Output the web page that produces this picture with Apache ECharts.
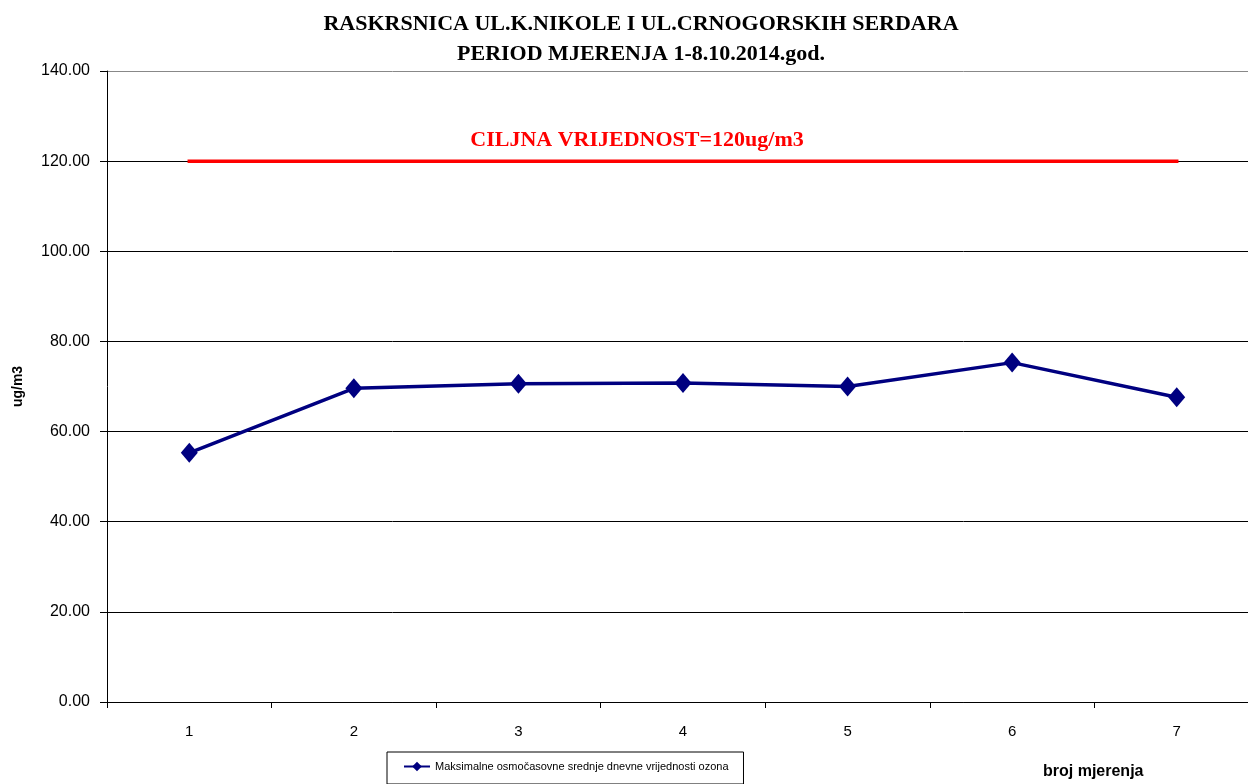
<!DOCTYPE html>
<html>
<head>
<meta charset="utf-8">
<script src="https://cdn.jsdelivr.net/npm/echarts@6/dist/echarts.min.js"></script>
<style>html,body{margin:0;padding:0;background:#fff;}#c{width:1248px;height:784px;}</style>
</head>
<body>
<div id="c"></div>
<script>
var categories = ['1', '2', '3', '4', '5', '6', '7'];
var ozoneValues = [55.3, 69.6, 70.6, 70.8, 70.0, 75.3, 67.6];
var targetValues = [120, 120, 120, 120, 120, 120, 120];
var seriesName = 'Maksimalne osmočasovne srednje dnevne vrijednosti ozona';
var titleLines = 'RASKRSNICA UL.K.NIKOLE I UL.CRNOGORSKIH SERDARA\nPERIOD MJERENJA 1-8.10.2014.god.';
var targetLabel = 'CILJNA VRIJEDNOST=120ug/m3';
var xAxisName = 'broj mjerenja';
var yAxisName = 'ug/m3';

var chart = echarts.init(document.getElementById('c'));
chart.setOption({
  animation: false,
  backgroundColor: '#fff',
  title: [
    {
      text: titleLines,
      left: 636, textAlign: 'center',
      top: 4,
      textStyle: {fontFamily: 'Liberation Serif', fontWeight: 'bold', fontSize: 22, color: '#000', lineHeight: 30}
    },
    {
      text: targetLabel,
      left: 632, top: 124, textAlign: 'center',
      textStyle: {fontFamily: 'Liberation Serif', fontWeight: 'bold', fontSize: 22, color: '#ff0000'}
    },
    {
      text: xAxisName,
      left: 1038, top: 759,
      textStyle: {fontFamily: 'Liberation Sans', fontWeight: 'bold', fontSize: 16, color: '#000'}
    }
  ],
  grid: {left: 107, top: 71, width: 1152, height: 631, containLabel: false, outerBoundsMode: 'none'},
  legend: {
    data: [seriesName],
    left: 387, top: 752,
    borderColor: '#000', borderWidth: 1,
    padding: [9, 15, 12, 16],
    itemWidth: 26, itemHeight: 12,
    textStyle: {fontFamily: 'Liberation Sans', fontSize: 11, color: '#000'}
  },
  xAxis: {
    type: 'category',
    data: categories,
    boundaryGap: true,
    axisLine: {lineStyle: {color: '#000', width: 1}},
    axisTick: {show: true, interval: 0, length: 6, lineStyle: {color: '#000'}},
    axisLabel: {margin: 22, fontFamily: 'Liberation Sans', fontSize: 15, color: '#000'},
    splitLine: {show: false}
  },
  yAxis: {
    type: 'value',
    min: 0, max: 140, interval: 20,
    name: yAxisName,
    nameLocation: 'middle',
    nameGap: 82,
    nameRotate: 90,
    nameTextStyle: {fontFamily: 'Liberation Sans', fontWeight: 'bold', fontSize: 14, color: '#000'},
    axisLine: {show: true, lineStyle: {color: '#000', width: 1}},
    axisTick: {show: true, length: 7, lineStyle: {color: '#000'}},
    axisLabel: {margin: 17, fontFamily: 'Liberation Sans', fontSize: 16, color: '#000', formatter: function (v) { return v.toFixed(2); }},
    splitLine: {show: true, lineStyle: {color: ['#000', '#000', '#000', '#000', '#000', '#000', '#000', '#888'], width: 1}}
  },
  series: [
    {
      name: 'target',
      type: 'line',
      data: targetValues,
      symbol: 'none',
      lineStyle: {color: '#ff0000', width: 3.5, cap: 'square'},
      itemStyle: {color: '#ff0000'},
      silent: true,
      z: 3
    },
    {
      name: seriesName,
      type: 'line',
      data: ozoneValues,
      symbol: 'diamond',
      symbolSize: [17, 20],
      showSymbol: true,
      lineStyle: {color: '#000080', width: 3.5},
      itemStyle: {color: '#000080'},
      z: 4
    }
  ]
});
</script>
</body>
</html>
